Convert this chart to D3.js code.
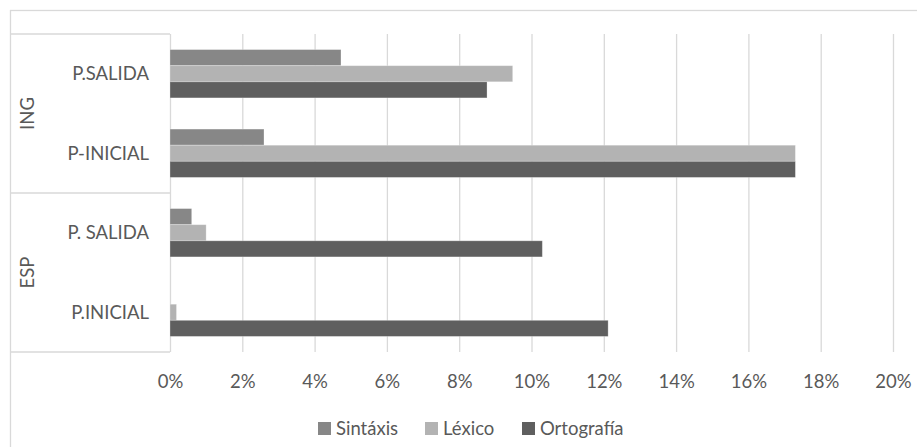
<!DOCTYPE html>
<html>
<head>
<meta charset="utf-8">
<script src="https://cdn.jsdelivr.net/npm/d3@7"></script>
<style>
  html, body { margin: 0; padding: 0; background: #fff; }
  svg { display: block; font-family: Lato, "Open Sans", sans-serif; }
</style>
</head>
<body>
<svg id="chart" width="917" height="447"></svg>
<script>
// Error rates (%) by category, two-level category axis
const categoryLabels = ["P.SALIDA", "P-INICIAL", "P. SALIDA", "P.INICIAL"];
const categoryGroups = ["ING", "ING", "ESP", "ESP"];
const groupNames = ["ING", "ESP"];
const seriesNames = ["Sintáxis", "Léxico", "Ortografía"];
const sintaxis = [4.73, 2.6, 0.6, 0];
const lexico = [9.48, 17.3, 1.0, 0.18];
const ortografia = [8.77, 17.3, 10.3, 12.12];
const tickValues = [0, 2, 4, 6, 8, 10, 12, 14, 16, 18, 20];

const seriesValues = [sintaxis, lexico, ortografia];
const colors = ["#878787", "#b3b3b3", "#5f5f5f"];
const textColor = "#595959";
const lineColor = "#d9d9d9";

const svg = d3.select("#chart");
const W = 917, H = 447;
const plot = { left: 170, right: 893, top: 34, bottom: 352 };

// Outer frame (extends past the right and bottom edges)
svg.append("rect")
  .attr("x", 10.5).attr("y", 10.5)
  .attr("width", W + 20).attr("height", H + 20)
  .attr("fill", "#fff").attr("stroke", lineColor).attr("stroke-width", 1.3);

const x = d3.scaleLinear().domain([0, 20]).range([plot.left, plot.right]);
const y = d3.scaleBand()
  .domain(d3.range(categoryLabels.length))
  .range([plot.top, plot.bottom])
  .paddingInner(0.392).paddingOuter(0.196);
const ySub = d3.scaleBand()
  .domain(seriesNames)
  .range([0, y.bandwidth()]);

// Value axis with full-height gridlines
const xAxis = d3.axisBottom(x)
  .tickValues(tickValues)
  .tickFormat(d => d + "%")
  .tickSize(-(plot.bottom - plot.top))
  .tickPadding(23);

const gx = svg.append("g")
  .attr("transform", `translate(0,${plot.bottom})`)
  .call(xAxis);
gx.select(".domain").remove();
gx.selectAll(".tick line").attr("stroke", lineColor).attr("stroke-width", 1.3);
gx.selectAll(".tick text")
  .attr("fill", textColor)
  .style("font-size", "18.5px")
  .style("font-family", "Lato, 'Open Sans', sans-serif");

// Category table lines on the left: top, group divider, bottom
const groupBounds = [plot.top, (plot.top + plot.bottom) / 2, plot.bottom];
svg.append("g").selectAll("line")
  .data(groupBounds)
  .join("line")
  .attr("x1", 10).attr("x2", plot.left)
  .attr("y1", d => d).attr("y2", d => d)
  .attr("stroke", lineColor).attr("stroke-width", 1.3);

// Bars
const bars = svg.append("g");
seriesNames.forEach((name, si) => {
  bars.append("g")
    .attr("fill", colors[si])
    .selectAll("rect")
    .data(seriesValues[si].map((v, i) => ({ v, i })))
    .join("rect")
    .attr("x", x(0))
    .attr("y", d => y(d.i) + ySub(name))
    .attr("width", d => x(d.v) - x(0))
    .attr("height", ySub.bandwidth())
    .attr("stroke", "rgba(255,255,255,0.35)")
    .attr("stroke-width", 0.8);
});

// Category labels
svg.append("g").selectAll("text")
  .data(categoryLabels)
  .join("text")
  .attr("x", 149)
  .attr("y", (d, i) => y(i) + y.bandwidth() / 2)
  .attr("dy", "0.35em")
  .attr("text-anchor", "end")
  .attr("fill", textColor)
  .style("font-size", "18.5px")
  .text(d => d);

// Group labels (rotated), centred within each group's span
groupNames.forEach((g, gi) => {
  const cy = (groupBounds[gi] + groupBounds[gi + 1]) / 2;
  svg.append("text")
    .attr("transform", `translate(28,${cy}) rotate(-90)`)
    .attr("dy", "0.35em")
    .attr("text-anchor", "middle")
    .attr("fill", textColor)
    .style("font-size", "18.5px")
    .text(g);
});

// Legend
const legendItems = [
  { name: seriesNames[0], color: colors[0], x: 318 },
  { name: seriesNames[1], color: colors[1], x: 425 },
  { name: seriesNames[2], color: colors[2], x: 522 }
];
const legend = svg.append("g");
legendItems.forEach(it => {
  legend.append("rect")
    .attr("x", it.x).attr("y", 422)
    .attr("width", 13).attr("height", 13)
    .attr("fill", it.color);
  legend.append("text")
    .attr("x", it.x + 18).attr("y", 429)
    .attr("dy", "0.35em")
    .attr("fill", textColor)
    .style("font-size", "18.5px")
    .text(it.name);
});
</script>
</body>
</html>
